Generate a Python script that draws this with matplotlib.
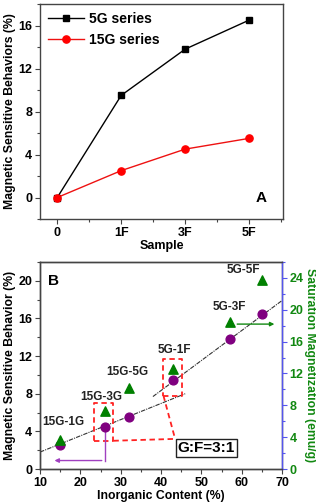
import matplotlib
matplotlib.use("Agg")
import matplotlib.pyplot as plt
from matplotlib.ticker import MultipleLocator

plt.rcParams['font.family'] = ['Liberation Sans', 'DejaVu Sans']
plt.rcParams['font.weight'] = 'bold'

# ---- Panel A data ----
samples = ["0", "1F", "3F", "5F"]
series_5g = [0.0, 9.5, 13.8, 16.5]
series_15g = [0.0, 2.5, 4.5, 5.5]

# ---- Panel B data ----
inorganic = [15, 26, 32, 43, 57, 65]
msb = [2.5, 4.5, 5.5, 9.5, 13.8, 16.5]
sat_mag = [3.7, 7.3, 10.2, 12.6, 18.5, 23.8]
point_labels = ["15G-1G", "15G-3G", "15G-5G", "5G-1F", "5G-3F", "5G-5F"]
label_x = [15.8, 25.1, 31.7, 43.2, 56.9, 60.5]
label_y = [5.0, 7.6, 10.3, 12.6, 17.2, 21.1]
fit1_x = [10, 46]
fit1_y = [1.8, 8.0]
fit2_x = [38, 70]
fit2_y = [7.7, 17.9]

fig = plt.figure(figsize=(3.16, 5.04), dpi=100)
spine_c = '#444444'
tick_fs = 9

# ================= Panel A =================
axA = fig.add_axes([40/316, 1-219/504, (283-40)/316, (219-4)/504])
xs = list(range(len(samples)))
axA.plot(xs, series_5g, '-s', color='black', lw=1, ms=4.8, label='5G series')
axA.plot(xs, series_15g, '-o', color='#ee1111', mfc='#ff0000', mec='#ff0000',
         lw=1, ms=5.2, label='15G series')
axA.set_xlim(-0.27, 3.53)
axA.set_ylim(-2, 18)
axA.set_xticks(xs)
axA.set_xticklabels(samples)
axA.xaxis.set_minor_locator(MultipleLocator(0.5))
axA.yaxis.set_major_locator(MultipleLocator(4))
axA.yaxis.set_minor_locator(MultipleLocator(2))
axA.tick_params(axis='both', which='major', labelsize=tick_fs, length=3.5, width=0.8,
                color=spine_c, pad=2)
axA.tick_params(axis='both', which='minor', length=2, width=0.8, color=spine_c)
for lab in axA.get_xticklabels() + axA.get_yticklabels():
    lab.set_fontweight('bold')
for s in axA.spines.values():
    s.set_color(spine_c)
    s.set_linewidth(1)
axA.set_xlabel('Sample', fontsize=9, fontweight='bold', labelpad=1)
axA.set_ylabel('Magnetic Sensitive Behaviors (%)', fontsize=8.8, fontweight='bold', labelpad=2)
leg = axA.legend(loc='upper left', frameon=False, handlelength=2.6,
                 handletextpad=0.3, borderaxespad=0.2, labelspacing=0.5,
                 prop={'weight': 'bold', 'size': 10})
axA.text(3.19, 0, 'A', fontsize=11, fontweight='bold', ha='center', va='center')

# ================= Panel B =================
axB = fig.add_axes([40/316, 1-469/504, (282-40)/316, (469-262)/504])
axB2 = axB.twinx()
axB.set_xlim(10, 70)
axB.set_ylim(0, 22)
axB2.set_ylim(0, 26)

axB.plot(fit1_x, fit1_y, color='#333333', lw=0.8, ls=(0, (4, 1, 1, 1)), zorder=2)
axB.plot(fit2_x, fit2_y, color='#333333', lw=0.8, ls=(0, (4, 1, 1, 1)), zorder=2)

axB.scatter(inorganic, msb, s=40, color='#800080', zorder=4)
axB2.scatter(inorganic, sat_mag, s=45, marker='^', color='#008000', zorder=4)

for lx, ly, t in zip(label_x, label_y, point_labels):
    axB.text(lx, ly, t, fontsize=8.5, fontweight='bold', ha='center', va='center',
             color='#222222')

axB.text(13.3, 20.0, 'B', fontsize=11, fontweight='bold', ha='center', va='center')

red = '#ff2222'
dash = (0, (3, 2))
# dashed boxes
axB.plot([23.5, 28.2, 28.2, 23.5, 23.5], [3.0, 3.0, 7.0, 7.0, 3.0],
         color=red, lw=1.3, ls=dash)
axB.plot([40.6, 45.1, 45.1, 40.6, 40.6], [7.8, 7.8, 11.7, 11.7, 7.8],
         color=red, lw=1.3, ls=dash)
# callout lines
axB.plot([28.2, 43.5], [3.0, 3.2], color=red, lw=1.3, ls=dash)
axB.plot([40.6, 43.5], [7.8, 3.2], color=red, lw=1.3, ls=dash)
axB.text(51.2, 2.2, 'G:F=3:1', fontsize=11, fontweight='bold', ha='center', va='center',
         bbox=dict(boxstyle='square,pad=0.12', fc='white', ec='#222222', lw=1), zorder=6)

# purple arrow
purple = '#a040c0'
axB.plot([26, 26], [4.0, 0.9], color=purple, lw=1)
axB.annotate('', xy=(12.9, 0.9), xytext=(26, 0.9),
             arrowprops=dict(arrowstyle='-|>', color=purple, lw=1, mutation_scale=6))
# green arrow
axB.annotate('', xy=(68.8, 15.4), xytext=(58.2, 15.4),
             arrowprops=dict(arrowstyle='-|>', color='#118811', lw=1, mutation_scale=6))

axB.xaxis.set_major_locator(MultipleLocator(10))
axB.xaxis.set_minor_locator(MultipleLocator(5))
axB.yaxis.set_major_locator(MultipleLocator(4))
axB.yaxis.set_minor_locator(MultipleLocator(2))
axB2.yaxis.set_major_locator(MultipleLocator(4))
axB2.yaxis.set_minor_locator(MultipleLocator(2))
axB.tick_params(axis='both', which='major', labelsize=tick_fs, length=3.5, width=0.8,
                color=spine_c, pad=2)
axB.tick_params(axis='both', which='minor', length=2, width=0.8, color=spine_c)
blue = '#5555ee'
axB2.tick_params(axis='y', which='major', labelsize=tick_fs, length=3.5, width=0.8,
                 color=blue, labelcolor='#118811', pad=2)
axB2.tick_params(axis='y', which='minor', length=2, width=0.8, color=blue)
for lab in axB.get_xticklabels() + axB.get_yticklabels() + axB2.get_yticklabels():
    lab.set_fontweight('bold')
for s in axB.spines.values():
    s.set_color(spine_c)
    s.set_linewidth(1)
for name, s in axB2.spines.items():
    s.set_color(spine_c)
    s.set_linewidth(1)
axB2.spines['right'].set_color(blue)
axB.set_xlabel('Inorganic Content (%)', fontsize=8.8, fontweight='bold', labelpad=1)
axB.set_ylabel('Magnetic Sensitive Behavior (%)', fontsize=8.8, fontweight='bold', labelpad=2)
axB2.set_ylabel('Saturation Magnetization (emu/g)', fontsize=8.8, fontweight='bold',
                color='#118811', rotation=-90, labelpad=9)

fig.savefig('out.png', dpi=100)
